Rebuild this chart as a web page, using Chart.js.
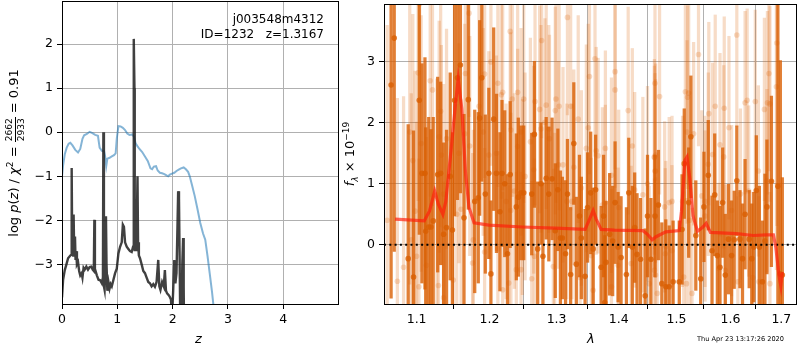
<!DOCTYPE html>
<html><head><meta charset="utf-8">
<script src="https://cdn.jsdelivr.net/npm/chart.js@4.4.0/dist/chart.umd.min.js"></script>
<style>
html,body{margin:0;padding:0;background:#fff;}
#wrap{position:relative;width:800px;height:350px;overflow:hidden;font-family:'DejaVu Sans',sans-serif;color:#000;}
canvas{position:absolute;top:0;}
#cL{left:0;}
#cR{left:340px;}
.lbl{position:absolute;white-space:nowrap;}
.ytit{position:absolute;width:240px;height:20px;line-height:20px;text-align:center;transform:rotate(-90deg);transform-origin:120px 10px;white-space:nowrap;font-size:13px;color:#000;}
.frac{display:inline-block;vertical-align:-6px;text-align:center;font-size:9px;line-height:9px;}
.frac .n{display:block;border-bottom:1px solid #000;padding:0 1px 1px 1px;}
.frac .d{display:block;padding-top:1px;}
</style></head><body>
<div id="wrap">
<canvas id="cL" width="345" height="350" style="width:345px;height:350px"></canvas>
<canvas id="cR" width="460" height="350" style="width:460px;height:350px"></canvas>
<div class="lbl" style="right:476px;top:12px;font-size:12px;line-height:14.5px;text-align:right;white-space:pre">j003548m4312
ID=1232   z=1.3167</div>
<div class="ytit" style="left:-106px;top:143px;">log <i>p</i>(<i>z</i>) / <i>χ</i><sup style="font-size:9px;line-height:0">2</sup> = <span class="frac"><span class="n">2662</span><span class="d">2933</span></span> = 0.91</div>
<div class="ytit" style="left:230px;top:144px;"><i>f</i><sub style="font-size:9px;line-height:0"><i>λ</i></sub> × 10<sup style="font-size:9px;line-height:0">−19</sup></div>
<div class="lbl" style="left:195px;top:331px;font-size:13px;font-style:italic;">z</div>
<div class="lbl" style="left:587px;top:331px;font-size:13px;font-style:italic;">λ</div>
<div class="lbl" style="left:697px;top:335px;font-size:6.6px;">Thu Apr 23 13:17:26 2020</div>
</div>
<script>
// ---------- left panel data ----------
const zTicks = [0, 1, 2, 3, 4];
const logpTicks = [-3, -2, -1, 0, 1, 2];
const chiZ = [0.00,0.02,0.05,0.085,0.12,0.15,0.19,0.24,0.29,0.33,0.37,0.40,0.45,0.50,0.55,0.60,0.65,0.68,0.72,0.76,0.78,0.80,0.82,0.86,0.90,0.94,0.97,0.99,1.02,1.06,1.10,1.14,1.18,1.22,1.27,1.30,1.33,1.36,1.40,1.45,1.50,1.55,1.60,1.63,1.66,1.70,1.73,1.77,1.81,1.85,1.89,1.92,1.95,1.99,2.03,2.07,2.11,2.15,2.20,2.24,2.28,2.31,2.35,2.40,2.45,2.50,2.55,2.59,2.63,2.67,2.71,2.74,2.78];
const chiVal = [-1.0,-0.75,-0.5,-0.35,-0.26,-0.24,-0.3,-0.4,-0.46,-0.38,-0.15,-0.07,-0.04,0.01,-0.02,-0.06,-0.08,-0.35,-0.42,-0.43,-0.55,-0.77,-0.6,-0.58,-0.55,-0.52,-0.48,-0.15,0.14,0.13,0.1,0.05,-0.03,-0.06,-0.05,-0.1,-0.25,-0.31,-0.38,-0.45,-0.55,-0.65,-0.82,-0.84,-0.78,-0.77,-0.87,-0.92,-0.93,-0.95,-0.98,-1.0,-0.96,-0.94,-0.92,-0.88,-0.85,-0.82,-0.80,-0.84,-0.9,-1.0,-1.2,-1.45,-1.75,-2.06,-2.3,-2.44,-2.8,-3.2,-3.6,-3.95,-4.4];
const pzZ = [0.00,0.02,0.05,0.08,0.11,0.15,0.17,0.175,0.185,0.20,0.21,0.22,0.235,0.245,0.255,0.27,0.29,0.31,0.33,0.355,0.37,0.39,0.41,0.44,0.47,0.50,0.53,0.555,0.575,0.585,0.595,0.63,0.66,0.69,0.72,0.74,0.748,0.758,0.77,0.78,0.795,0.805,0.82,0.84,0.86,0.88,0.90,0.93,0.96,0.99,1.02,1.05,1.08,1.10,1.12,1.14,1.17,1.20,1.23,1.26,1.285,1.295,1.30,1.31,1.315,1.33,1.345,1.365,1.375,1.39,1.41,1.44,1.47,1.50,1.53,1.56,1.59,1.62,1.65,1.68,1.71,1.74,1.76,1.78,1.81,1.84,1.86,1.88,1.90,1.93,1.95,1.97,1.99,2.01,2.03,2.05,2.07,2.09,2.10,2.115,2.125,2.14,2.16,2.175,2.19,2.20,2.21];
const pzLog = [-3.75,-3.35,-3.13,-3.0,-2.86,-2.8,-2.78,-0.81,-2.75,-2.8,-1.87,-2.7,-2.37,-2.9,-2.7,-3.0,-2.95,-3.15,-3.25,-3.2,-3.3,-3.08,-3.12,-3.05,-3.12,-3.06,-3.05,-3.12,-3.15,-1.99,-3.1,-3.25,-3.35,-3.36,-3.43,-3.3,0.0,-3.5,-3.58,-3.2,-1.91,-3.0,-3.6,-3.4,-3.55,-3.45,-3.5,-3.35,-3.2,-3.1,-2.75,-2.6,-2.5,-2.1,-2.15,-2.5,-2.6,-2.65,-2.7,-2.72,-2.6,-0.5,2.12,1.0,-2.7,-2.0,-2.7,-1.0,-2.5,-2.8,-2.86,-3.0,-3.15,-3.2,-3.3,-3.4,-3.43,-3.5,-3.45,-3.51,-3.4,-2.9,-3.5,-3.58,-3.4,-3.5,-3.13,-3.6,-3.66,-3.7,-3.74,-3.8,-4.2,-3.6,-2.9,-3.43,-3.2,-2.0,-1.34,-1.5,-2.67,-4.5,-4.5,-3.0,-2.4,-3.5,-5.0];

// ---------- right panel data ----------
const waveTicks = [1.1, 1.2, 1.3, 1.4, 1.5, 1.6, 1.7];
const fluxTicks = [0, 1, 2, 3];
const darkWave = [1.067,1.071,1.089,1.096,1.1035,1.107,1.111,1.112,1.116,1.119,1.122,1.128,1.132,1.136,1.140,1.145,1.148,1.151,1.155,1.159,1.164,1.170,1.179,1.184,1.186,1.189,1.194,1.199,1.202,1.206,1.210,1.215,1.218,1.222,1.226,1.230,1.239,1.242,1.246,
1.250,1.262,1.266,1.271,1.276,1.279,1.284,1.288,1.293,1.298,1.302,1.306,1.309,1.314,1.317,1.322,1.327,1.331,1.336,1.339,1.345,1.349,1.354,1.358,1.362,1.371,1.375,1.377,1.379,1.385,1.390,1.394,1.399,1.404,1.413,1.417,1.423,1.427,1.431,1.437,1.445,1.449,1.455,1.462,
1.468,1.474,1.481,1.487,1.494,1.505,1.510,1.514,1.522,1.526,1.535,1.544,1.550,1.558,1.565,1.570,1.575,1.580,1.585,1.590,1.596,1.602,1.607,1.612,1.618,1.623,1.628,1.636,1.641,1.645,1.650,1.656,1.662,1.667,1.671,1.680,1.693,1.698,1.702];
const darkFlux = [2.62,3.39,-0.23,-0.53,2.37,1.17,1.17,0.22,0.29,0.29,0.39,1.15,1.17,0.17,0.28,1.12,0.24,2.37,2.74,2.95,0.44,2.38,0.71,0.77,2.08,2.74,0.83,1.17,-0.48,2.06,1.17,0.54,1.17,1.0,-0.15,1.15,0.62,0.78,0.85,
0.85,0.83,1.81,-0.07,1.0,-0.19,1.09,0.83,1.08,0.23,0.90,0.11,0.11,-0.15,0.83,-0.49,1.66,-0.32,0.47,0.11,-0.52,0.61,0.85,-0.07,0.90,-0.37,0.47,-0.95,-0.29,0.17,0.06,0.69,-0.04,-0.21,-0.49,0.85,-0.04,0.28,-0.16,-0.24,-0.84,0.47,-0.24,0.47,
0.65,-0.64,-0.69,-0.69,-0.61,-0.61,0.25,1.33,0.69,1.77,0.15,-0.56,0.62,1.14,-0.10,0.82,-0.18,-0.37,0.69,-0.50,0.09,-0.18,0.08,1.05,0.09,-0.23,0.50,0.09,-0.23,-0.04,0.89,-0.04,-0.61,0.06,0.62,1.04,0.96,-0.48,-0.5];
const darkErr = [3.5,3.5,2.2,2.4,2.2,1.8,1.9,1.7,1.8,1.6,1.7,1.6,1.5,1.5,1.6,1.7,1.6,1.9,2.0,2.1,1.7,1.8,1.5,1.4,1.6,1.7,1.3,1.4,1.2,1.5,1.3,1.3,1.2,1.2,1.3,1.2,1.2,1.3,1.1,
1.1,1.0,1.2,1.1,1.0,1.2,1.0,1.1,1.0,1.1,1.0,1.1,1.0,1.2,0.9,1.1,1.0,1.1,1.0,1.0,1.1,0.9,1.0,1.0,0.9,1.0,1.0,1.1,1.0,1.0,0.9,1.0,0.9,1.0,1.1,0.9,1.0,0.9,1.0,1.0,1.1,1.0,1.0,1.0,
0.9,1.0,1.1,1.0,1.0,1.0,0.9,0.9,0.9,1.0,0.9,1.0,0.9,0.9,0.9,1.0,0.9,1.0,0.9,1.0,0.9,0.9,0.8,0.9,0.8,0.9,0.9,0.8,0.9,0.9,0.9,1.0,1.0,1.1,1.1,1.4,3.5,3.5,1.6];
const lightWave = [1.104,1.171,1.230,1.102,1.118,1.121,1.202,1.212,1.219,1.217,1.233,1.241,1.091,1.095,1.106,1.132,1.130,1.140,1.133,1.166,1.165,1.172,1.157,1.185,1.193,1.191,1.199,1.210,1.231,1.241,1.236,1.248,1.224,1.231,1.127,1.136,1.154,1.160,1.098,1.177,1.093,1.100,1.113,1.083,1.103,1.129,1.149,1.136,1.176,1.193,1.212,1.228,1.219,1.239,1.062,1.075,
1.317,1.277,1.361,1.352,1.394,1.394,1.250,1.267,1.274,1.284,1.299,1.304,1.298,1.322,1.282,1.276,1.288,1.334,1.350,1.416,1.462,1.246,1.260,1.289,1.423,1.347,1.363,1.366,1.378,1.461,1.462,1.252,1.265,1.303,1.310,1.327,1.388,1.427,1.449,1.441,1.373,1.378,1.400,1.324,1.316,1.339,1.297,1.246,1.262,1.266,1.295,1.337,1.358,1.355,1.399,1.421,1.452,1.463,1.388,
1.612,1.540,1.675,1.691,1.516,1.522,1.520,1.470,1.628,1.632,1.648,1.666,1.672,1.677,1.571,1.588,1.559,1.690,1.597,1.531,1.519,1.461,1.463,1.463,1.580,1.587,1.566,1.558,1.654,1.671,1.619,1.635,1.492,1.487,1.479,1.546,1.552,1.511,1.524,1.552,1.602,1.481,1.492,1.480,1.513,1.518,1.528,1.461,1.466,1.578,1.590,1.614,1.643,1.655,1.677];
const lightFlux = [3.95,3.80,3.50,2.82,2.69,2.54,3.00,2.65,2.50,2.46,2.39,2.50,1.85,1.38,1.66,2.19,1.77,1.74,1.47,2.81,1.82,1.62,1.50,2.27,2.80,1.85,1.47,1.50,1.88,1.61,0.88,0.78,0.71,0.56,0.82,0.83,0.50,0.58,0.55,0.08,0.08,-0.19,-0.34,-0.37,-0.69,-0.67,-0.58,-0.87,-0.30,-0.12,-0.07,-0.63,-0.74,-0.41,0.4,-0.6,
3.73,3.35,3.05,2.76,2.84,2.54,2.39,2.35,2.22,2.29,2.39,2.27,2.20,2.27,2.01,1.90,1.90,2.06,1.92,2.20,2.65,1.85,1.69,1.74,1.62,1.58,1.54,1.46,1.58,1.44,1.21,1.12,1.23,1.31,1.31,1.27,1.14,0.90,1.00,0.82,0.65,0.69,0.61,0.71,0.71,0.93,0.23,-0.41,-0.56,-0.19,-0.36,-0.54,-0.75,-0.18,-0.34,-0.31,-0.64,-0.50,-0.69,
3.44,3.12,2.81,3.31,2.51,2.49,2.42,2.43,2.33,2.37,2.35,2.22,2.33,2.31,2.27,2.24,2.15,2.59,1.92,1.82,1.85,1.43,1.47,1.21,1.64,1.44,1.48,1.32,1.21,1.05,0.83,0.88,0.71,0.69,0.62,0.80,0.71,0.71,0.40,0.47,0.56,-0.03,-0.10,-0.15,-0.53,-0.64,-0.80,-0.42,-0.80,-0.39,-0.42,-0.61,-0.54,-0.61,-0.64];
const lightErr = [1.6,1.7,1.6,2.1,1.9,1.9,1.7,1.7,1.6,1.7,1.6,1.6,2.5,2.4,2.1,1.9,1.9,1.8,1.8,1.8,1.8,1.8,1.8,1.7,1.7,1.7,1.7,1.6,1.6,1.6,1.6,1.6,1.6,1.6,1.9,1.8,1.8,1.8,2.3,1.8,2.4,2.2,2.1,2.8,2.1,1.9,1.8,1.9,1.8,1.7,1.6,1.6,1.6,1.6,3.2,3.0,
1.6,1.6,1.6,1.6,1.6,1.6,1.7,1.7,1.7,1.7,1.7,1.7,1.7,1.7,1.7,1.7,1.7,1.7,1.7,1.7,1.6,1.7,1.7,1.7,1.6,1.7,1.7,1.6,1.6,1.6,1.6,1.7,1.7,1.7,1.6,1.6,1.6,1.6,1.6,1.6,1.6,1.6,1.6,1.6,1.6,1.6,1.6,1.6,1.6,1.6,1.6,1.6,1.6,1.6,1.6,1.6,1.6,1.6,1.6,
1.5,1.5,1.6,3.0,1.5,1.5,1.5,1.6,1.5,1.5,1.5,1.5,1.5,1.6,1.5,1.5,1.5,3.0,1.5,1.5,1.5,1.5,1.5,1.5,1.5,1.5,1.5,1.5,1.4,1.5,1.4,1.4,1.4,1.4,1.4,1.4,1.4,1.4,1.4,1.4,1.4,1.4,1.4,1.4,1.4,1.4,1.4,1.5,1.5,1.4,1.4,1.4,1.4,1.4,1.5];
const modelWave = [1.072,1.110,1.117,1.124,1.129,1.135,1.139,1.146,1.152,1.156,1.161,1.166,1.171,1.178,1.199,1.248,1.298,1.345,1.351,1.358,1.363,1.371,1.393,1.441,1.449,1.457,1.464,1.481,1.505,1.509,1.515,1.519,1.524,1.530,1.538,1.547,1.554,1.562,1.612,1.644,1.670,1.684,1.689,1.695,1.699,1.702];
const modelFlux = [0.42,0.39,0.55,0.88,0.66,0.50,0.71,1.53,2.28,2.72,2.23,1.20,0.61,0.36,0.32,0.29,0.27,0.25,0.39,0.56,0.42,0.25,0.24,0.23,0.17,0.08,0.13,0.21,0.23,0.55,1.38,1.44,1.09,0.47,0.22,0.28,0.35,0.20,0.18,0.15,0.16,0.16,-0.05,-0.50,-0.68,-0.45];
const waveRange = [1.058, 1.730];
const zeroLevel = [0, 0];

Chart.defaults.font.family = "'DejaVu Sans', sans-serif";
Chart.defaults.font.size = 12.5;
Chart.defaults.color = '#000';

const boxPlugin = {id:'box', afterDraw(c){const a=c.chartArea, x=c.ctx; x.save(); x.strokeStyle='#000'; x.lineWidth=1; x.strokeRect(a.left+0.5, a.top+0.5, a.right-a.left, a.bottom-a.top); x.restore();}};
const minus = v => String(v).replace('-', '\u2212');
const gridOpt = {color:'#b0b0b0', tickColor:'#000', tickLength:5, lineWidth:1};
const fitX = s => {s.height = 46; s.paddingLeft = 0; s.paddingRight = 0;};
const fitY = w => s => {s.width = w; s.paddingTop = 0; s.paddingBottom = 0;};

new Chart(document.getElementById('cL'), {
  type:'scatter',
  data:{datasets:[
    {type:'line', label:'pz', data: pzZ.map((z,i)=>({x:z,y:pzLog[i]})), borderColor:'rgba(30,30,30,0.85)', borderWidth:2.4, pointRadius:0, tension:0, clip:0, order:0},
    {type:'line', label:'chi2', data: chiZ.map((z,i)=>({x:z,y:chiVal[i]})), borderColor:'rgba(31,119,180,0.55)', borderWidth:2, pointRadius:0, tension:0, clip:0, order:1}
  ]},
  options:{responsive:false, animation:false, events:[],
    plugins:{legend:{display:false}, tooltip:{enabled:false}},
    layout:{padding:{left:0,right:7,top:1,bottom:0}},
    scales:{
      x:{type:'linear', min:0, max:4.99, grid:gridOpt, border:{display:false},
         afterBuildTicks:s=>{s.ticks = zTicks.map(v=>({value:v}));},
         afterFit:fitX,
         ticks:{autoSkip:false, maxRotation:0, padding:3, callback:v=>minus(v)}},
      y:{type:'linear', min:-3.9, max:2.98, grid:gridOpt, border:{display:false},
         afterBuildTicks:s=>{s.ticks = logpTicks.map(v=>({value:v}));},
         afterFit:fitY(62),
         ticks:{autoSkip:false, padding:4, callback:v=>minus(v)}}
    }
  },
  plugins:[boxPlugin]
});

const darkCol = 'rgba(217,95,2,0.8)';
const lightCol = 'rgba(217,95,2,0.22)';
new Chart(document.getElementById('cR'), {
  type:'scatter',
  data:{datasets:[
    {type:'line', label:'model', data: modelWave.map((w,i)=>({x:w,y:modelFlux[i]})), borderColor:'rgba(255,30,10,0.68)', borderWidth:3.2, pointRadius:0, tension:0, clip:0, order:0},
    {type:'line', label:'zero', data: waveRange.map((w,i)=>({x:w,y:zeroLevel[i]})), borderColor:'#000', borderWidth:2, borderDash:[2,3.3], pointRadius:0, clip:0, order:1},
    {type:'scatter', label:'dark', data: darkWave.map((w,i)=>({x:w,y:darkFlux[i]})), backgroundColor:darkCol, borderWidth:0, pointRadius:2.8, clip:0, order:2},
    {type:'bar', label:'darkErr', data: darkWave.map((w,i)=>({x:w,y:[darkFlux[i]-darkErr[i], darkFlux[i]+darkErr[i]]})), backgroundColor:darkCol, borderWidth:0, barThickness:2.6, grouped:false, clip:0, order:3},
    {type:'scatter', label:'light', data: lightWave.map((w,i)=>({x:w,y:lightFlux[i]})), backgroundColor:lightCol, borderWidth:0, pointRadius:2.8, clip:0, order:4},
    {type:'bar', label:'lightErr', data: lightWave.map((w,i)=>({x:w,y:[lightFlux[i]-lightErr[i], lightFlux[i]+lightErr[i]]})), backgroundColor:lightCol, borderWidth:0, barThickness:2.6, grouped:false, clip:0, order:5}
  ]},
  options:{responsive:false, animation:false, events:[],
    plugins:{legend:{display:false}, tooltip:{enabled:false}},
    layout:{padding:{left:0,right:1,top:1,bottom:0}},
    scales:{
      x:{type:'logarithmic', min:waveRange[0], max:waveRange[1], offset:false, grid:gridOpt, border:{display:false},
         afterBuildTicks:s=>{s.ticks = waveTicks.map(v=>({value:v}));},
         afterFit:fitX,
         ticks:{autoSkip:false, maxRotation:0, padding:3, callback:v=>Number(v).toFixed(1)}},
      y:{type:'linear', min:-0.974, max:3.95, grid:gridOpt, border:{display:false},
         afterBuildTicks:s=>{s.ticks = fluxTicks.map(v=>({value:v}));},
         afterFit:fitY(44),
         ticks:{autoSkip:false, padding:4, callback:v=>minus(v)}}
    }
  },
  plugins:[boxPlugin]
});
</script>
</body></html>
